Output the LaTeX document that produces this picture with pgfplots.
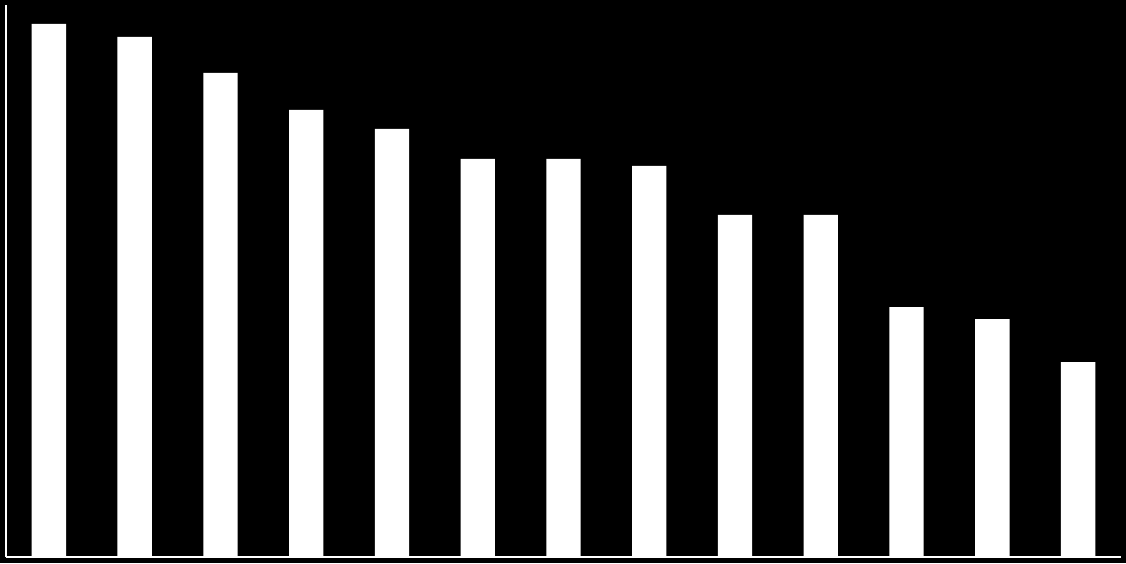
\documentclass[border=0pt]{standalone}
\usepackage{pgfplots}
\pgfplotsset{compat=1.18}

\begin{document}
\begin{tikzpicture}
    % black page behind the chart
    \fill[black] (0,0) rectangle (1126pt,563pt);
    \useasboundingbox (0,0) rectangle (1126pt,563pt);
    \begin{axis}[
            at={(6pt,6pt)}, anchor=south west,
            scale only axis,
            width=1115pt, height=552pt,
            ybar,
            bar width=0.4,
            xmin=-0.5, xmax=12.5,
            ymin=0, ymax=552,
            axis x line=bottom, axis y line=left,
            axis line style={white, line width=2pt, -},
            ticks=none,
            clip=false,
        ]
        \addplot[fill=white, draw=none] coordinates {
            (0,533) (1,520) (2,484) (3,447) (4,428) (5,398) (6,398)
            (7,391) (8,342) (9,342) (10,250) (11,238) (12,195)};
    \end{axis}
\end{tikzpicture}
\end{document}
